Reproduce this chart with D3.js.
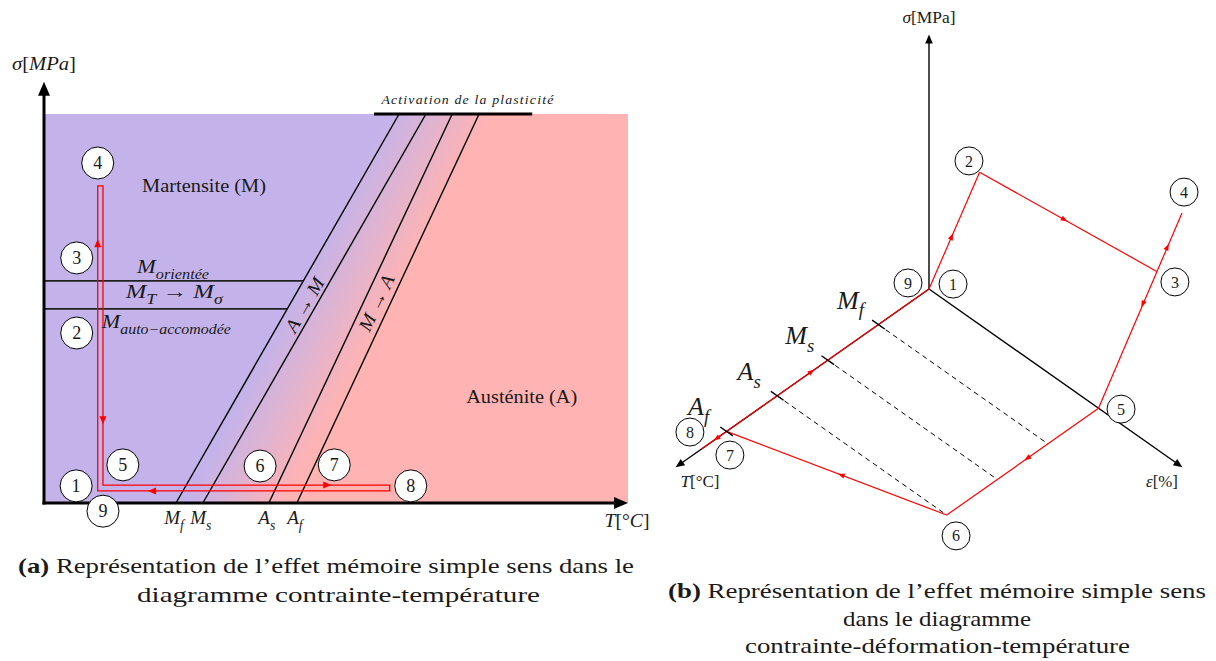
<!DOCTYPE html>
<html>
<head>
<meta charset="utf-8">
<script src="https://cdn.jsdelivr.net/npm/d3@7"></script>
<style>
  body { margin: 0; background: #fff; }
  svg text { font-family: "Liberation Serif", "Times New Roman", serif; fill: #1a1a1a; }
</style>
</head>
<body>
<svg id="fig" width="1216" height="661"></svg>
<script>
// ---------- (a) stress / temperature diagram, arbitrary units T 0..100, sigma 0..100 ----------
const transLines = [            // T where each boundary meets sigma = 0 and sigma = 100
  {sym: "M", sub: "f", t0: 22.6, t1: 60.8},
  {sym: "M", sub: "s", t0: 27.2, t1: 65.4},
  {sym: "A", sub: "s", t0: 38.5, t1: 69.9},
  {sym: "A", sub: "f", t0: 43.3, t1: 74.5}
];
const reorientLevels = [57.1, 49.9];
const plasticitySpan = [56.5, 83.6];
const loopA = [[9.2, 81.5], [9.2, 3.1], [59.2, 3.1], [59.2, 4.6], [10.1, 4.6], [10.1, 81.5]];
const loopArrowsA = [
  {at: [9.2, 66.8], dir: [0, 1]},
  {at: [10.1, 21.3], dir: [0, -1]},
  {at: [48.5, 4.6], dir: [1, 0]},
  {at: [18.5, 3.1], dir: [-1, 0]}
];
const stepsA = [
  {n: "4", at: [9.2, 87.4]}, {n: "3", at: [5.6, 63.0]}, {n: "2", at: [5.6, 43.7]},
  {n: "1", at: [5.5, 4.4]}, {n: "5", at: [13.5, 9.8]}, {n: "9", at: [10.1, -2.1]},
  {n: "6", at: [37.0, 9.5]}, {n: "7", at: [49.7, 9.8]}, {n: "8", at: [62.8, 4.4]}
];
const labelsA = [
  {id: "mart", at: [27.4, 80.0], parts: [["Martensite (M)", "r"]]},
  {id: "aust", at: [81.8, 25.7], parts: [["Austénite (A)", "r"]]},
  {id: "orient", at: [22.1, 59.1], parts: [["M"], ["orientée", "s"]]},
  {id: "mtms", at: [22.3, 52.7], parts: [["M"], ["T", "s"], [" → ", "r"], ["M"], ["σ", "s"]]},
  {id: "auto", at: [9.9, 45.0], parts: [["M"], ["auto−accomodée", "s"]]},
  {id: "plast", at: [72.6, 102.6], parts: [["Activation de la plasticité"]]}
];
const bandLabels = [  // rotated along the boundaries
  {at: [44.7, 50.9], along: 0, parts: [["A"], [" → ", "r"], ["M"]]},
  {at: [57.0, 51.4], along: 2, parts: [["M"], [" → ", "r"], ["A"]]}
];

// ---------- (b) stress / strain / temperature, 3D coords [T, eps, sigma] ----------
const pts = {
  p1: [0, 0, 0], p2: [0, 0.2, 0.6], p3: [0, 0.9, 0.7], p4: [0, 1.0, 1.0],
  p5: [0, 0.67, 0], p6: [0.6, 0.67, 0], p7: [0.8, 0, 0], p8: [0.9, 0, 0]
};
const redSegs = [["p1", "p2"], ["p2", "p3"], ["p5", "p4"], ["p5", "p6"], ["p6", "p7"], ["p1", "p8"]];
const redArrows = [
  {from: "p1", to: "p2", f: 0.45}, {from: "p2", to: "p3", f: 0.48},
  {from: "p3", to: "p4", f: 0.42}, {from: "p3", to: "p5", f: 0.24},
  {from: "p5", to: "p6", f: 0.47}, {from: "p6", to: "p7", f: 0.48},
  {from: "p7", to: "p8", f: 0.4}, {from: "p7", to: "p1", f: 0.42}
];
const tempTicks = [0.2, 0.4, 0.6, 0.8];
const tickNames = [["M", "f"], ["M", "s"], ["A", "s"], ["A", "f"]];
const dashedTo = [0.2, 0.4, 0.6];   // ticks joined to the eps = 0.67 edge
const stepsB = [
  {n: "2", at: [0, 0.158, 0.615]}, {n: "4", at: [0, 1.008, 1.088]}, {n: "3", at: [0, 0.972, 0.709]},
  {n: "1", at: [0, 0.095, 0.086]}, {n: "9", at: [0.083, 0, 0.082]}, {n: "5", at: [0, 0.759, 0.059]},
  {n: "6", at: [0.64, 0.747, 0]}, {n: "7", at: [0.86, 0.073, 0]}, {n: "8", at: [0.945, 0, 0.099]}
];

// ---------- captions ----------
const captionA = [["(a)", " Représentation de l’effet mémoire simple sens dans le"], ["", "diagramme contrainte-température"]];
const captionB = [["(b)", " Représentation de l’effet mémoire simple sens"], ["", "dans le diagramme"], ["", "contrainte-déformation-température"]];

const svg = d3.select("#fig");
const purple = "#c4b3ea", pink = "#ffb3b3", red = "#ff0000";

// math-ish text: parts = [text, flags], flags "r" upright, "s" subscript
function mathText(g, x, y, parts, size, anchor) {
  const t = g.append("text").attr("x", x).attr("y", y)
    .attr("font-size", size).attr("text-anchor", anchor || "middle");
  let shift = 0;
  parts.forEach(function (p) {
    const f = p[1] || "";
    const s = f.includes("s") ? size * 0.3 : 0;
    const ts = t.append("tspan").text(p[0]).attr("dy", s - shift);
    shift = s;
    if (!f.includes("r")) ts.attr("font-style", "italic");
    if (f.includes("s")) ts.attr("font-size", size * 0.72);
  });
  return t;
}

function arrowHead(g, px, py, ang, len, hw, color) {
  g.append("path")
    .attr("d", `M${len / 2},0 L${-len / 2},${-hw} L${-len / 2},${hw} Z`)
    .attr("transform", `translate(${px},${py}) rotate(${ang * 180 / Math.PI})`)
    .attr("fill", color);
}

// ================= panel (a) =================
const x = d3.scaleLinear().domain([0, 100]).range([44, 628]);
const y = d3.scaleLinear().domain([0, 100]).range([503, 114]);
const ga = svg.append("g");

// background shading, purple -> pink across the transformation band
const L1 = transLines[0], L4 = transLines[3];
const mid = 50;
const ax = x(L1.t0 + (L1.t1 - L1.t0) * mid / 100), ay = y(mid);
const bx = x(L4.t0 + (L4.t1 - L4.t0) * mid / 100);
const nx = Math.cos(27.5 * Math.PI / 180), ny = Math.sin(27.5 * Math.PI / 180);
const proj = (bx - ax) * nx;
const grad = svg.append("defs").append("linearGradient").attr("id", "band")
  .attr("gradientUnits", "userSpaceOnUse")
  .attr("x1", ax).attr("y1", ay).attr("x2", ax + proj * nx).attr("y2", ay + proj * ny);
grad.append("stop").attr("offset", 0).attr("stop-color", purple);
grad.append("stop").attr("offset", 1).attr("stop-color", pink);
ga.append("rect").attr("x", x(0)).attr("y", y(100))
  .attr("width", x(100) - x(0)).attr("height", y(0) - y(100)).attr("fill", "url(#band)");

// transformation boundaries
ga.selectAll(".tl").data(transLines).enter().append("line")
  .attr("x1", d => x(d.t0)).attr("y1", y(0)).attr("x2", d => x(d.t1)).attr("y2", y(100))
  .attr("stroke", "#000").attr("stroke-width", 1.4);

// reorientation levels end on the A->M boundary
ga.selectAll(".lv").data(reorientLevels).enter().append("line")
  .attr("x1", x(0)).attr("y1", d => y(d))
  .attr("x2", d => x(L1.t0 + (L1.t1 - L1.t0) * d / 100)).attr("y2", d => y(d))
  .attr("stroke", "#222").attr("stroke-width", 1.6);

// plasticity bar
ga.append("line").attr("x1", x(plasticitySpan[0])).attr("x2", x(plasticitySpan[1]))
  .attr("y1", y(100)).attr("y2", y(100)).attr("stroke", "#000").attr("stroke-width", 3);

// axes
ga.append("line").attr("x1", x(0)).attr("y1", y(0) + 1.5).attr("x2", x(0)).attr("y2", y(105))
  .attr("stroke", "#000").attr("stroke-width", 3);
arrowHead(ga, x(0), y(106.5), -Math.PI / 2, 14, 6, "#000");
ga.append("line").attr("x1", x(0) - 1.5).attr("y1", y(0)).attr("x2", x(98)).attr("y2", y(0))
  .attr("stroke", "#000").attr("stroke-width", 3);
arrowHead(ga, x(98.8), y(0), 0, 14, 6, "#000");
mathText(ga, x(0), y(108) - 13, [["σ"], ["[", "r"], ["MPa"], ["]", "r"]], 19)
  .attr("textLength", 64).attr("lengthAdjust", "spacingAndGlyphs");
mathText(ga, x(100) - 1, y(0) + 24, [["T"], ["[", "r"], ["°", "r"], ["C"], ["]", "r"]], 19)
  .attr("textLength", 45).attr("lengthAdjust", "spacingAndGlyphs");

// boundary names under the axis
transLines.forEach(function (d) {
  mathText(ga, x(d.t0) - 2, y(0) + 21, [[d.sym], [d.sub, "s"]], 19);
});

// red loop
ga.append("path").attr("d", d3.line().x(d => x(d[0])).y(d => y(d[1]))(loopA) + "Z")
  .attr("fill", "none").attr("stroke", red).attr("stroke-width", 1.3);
loopArrowsA.forEach(function (a) {
  const px = x(a.at[0]), py = y(a.at[1]);
  const ang = Math.atan2(y(a.at[1] + a.dir[1]) - py, x(a.at[0] + a.dir[0]) - px);
  arrowHead(ga, px, py, ang, 8, 3.5, red);
});

// texts
const styleA = {mart: [18, 124], aust: [18, 111], orient: [19, 72], mtms: [19, 97], auto: [19, 129], plast: [12, 173]};
labelsA.forEach(function (l) {
  const st = styleA[l.id];
  const t = mathText(ga, x(l.at[0]), y(l.at[1]), l.parts, st[0], l.id === "auto" ? "start" : "middle");
  if (st[1]) t.attr("textLength", st[1]).attr("lengthAdjust", "spacingAndGlyphs");
  if (l.id === "plast") t.attr("letter-spacing", 1);
});
bandLabels.forEach(function (l) {
  const d = transLines[l.along];
  const ang = Math.atan2(y(100) - y(0), x(d.t1) - x(d.t0)) * 180 / Math.PI;
  const g = ga.append("g").attr("transform", `translate(${x(l.at[0])},${y(l.at[1])}) rotate(${ang})`);
  mathText(g, 0, 6, l.parts, 19).attr("textLength", 60).attr("lengthAdjust", "spacingAndGlyphs");
});

// numbered states
const sa = ga.selectAll(".sa").data(stepsA).enter().append("g")
  .attr("transform", d => `translate(${x(d.at[0])},${y(d.at[1])})`);
sa.append("circle").attr("r", 16).attr("fill", "#fff").attr("stroke", "#000").attr("stroke-width", 1);
sa.append("text").attr("text-anchor", "middle").attr("dy", "0.35em").attr("font-size", 18).text(d => d.n);

// ================= panel (b) =================
const gb = svg.append("g");
const tX = d3.scaleLinear().domain([0, 1]).range([0, -253]);
const tY = d3.scaleLinear().domain([0, 1]).range([0, 178]);
const eX = d3.scaleLinear().domain([0, 1]).range([0, 253]);
const eY = d3.scaleLinear().domain([0, 1]).range([0, 178]);
const sY = d3.scaleLinear().domain([0, 1]).range([0, -254]);
const origin = [929, 289];
function P(c) { return [origin[0] + tX(c[0]) + eX(c[1]), origin[1] + tY(c[0]) + eY(c[1]) + sY(c[2])]; }
function lerp(a, b, f) { return a.map((v, i) => v + (b[i] - v) * f); }

// axes
[[1, 0, 0], [0, 1, 0], [0, 0, 1]].forEach(function (c) {
  const tip = P(c), o = P([0, 0, 0]);
  const ang = Math.atan2(tip[1] - o[1], tip[0] - o[0]);
  gb.append("line").attr("x1", o[0]).attr("y1", o[1])
    .attr("x2", tip[0] - 6 * Math.cos(ang)).attr("y2", tip[1] - 6 * Math.sin(ang))
    .attr("stroke", "#000").attr("stroke-width", 1.4);
  arrowHead(gb, tip[0] - 4 * Math.cos(ang), tip[1] - 4 * Math.sin(ang), ang, 9, 3.8, "#000");
});
const sTip = P([0, 0, 1]), tTip = P([1, 0, 0]), eTip = P([0, 1, 0]);
mathText(gb, sTip[0], sTip[1] - 12, [["σ"], ["[MPa]", "r"]], 17).attr("textLength", 53).attr("lengthAdjust", "spacingAndGlyphs");
mathText(gb, tTip[0] + 24, tTip[1] + 20, [["T"], ["[°C]", "r"]], 17).attr("textLength", 39).attr("lengthAdjust", "spacingAndGlyphs");
mathText(gb, eTip[0] - 20, eTip[1] + 20, [["ε"], ["[%]", "r"]], 17).attr("textLength", 32).attr("lengthAdjust", "spacingAndGlyphs");

// dashed guides
dashedTo.forEach(function (t) {
  const a = P([t, 0, 0]), b = P([t, pts.p5[1], 0]);
  gb.append("line").attr("x1", a[0]).attr("y1", a[1]).attr("x2", b[0]).attr("y2", b[1])
    .attr("stroke", "#000").attr("stroke-width", 1).attr("stroke-dasharray", "5,4");
});

// red path
redSegs.forEach(function (s) {
  const a = P(pts[s[0]]), b = P(pts[s[1]]);
  gb.append("line").attr("x1", a[0]).attr("y1", a[1]).attr("x2", b[0]).attr("y2", b[1])
    .attr("stroke", red).attr("stroke-width", 1.2);
});
redArrows.forEach(function (r) {
  const a = P(pts[r.from]), b = P(pts[r.to]);
  const p = lerp(a, b, r.f);
  arrowHead(gb, p[0], p[1], Math.atan2(b[1] - a[1], b[0] - a[0]), 7, 2.6, red);
});

// temperature ticks
tempTicks.forEach(function (t, i) {
  const a = P([t, -0.025, 0]), b = P([t, 0.025, 0]), c = P([t, 0, 0]);
  gb.append("line").attr("x1", a[0]).attr("y1", a[1]).attr("x2", b[0]).attr("y2", b[1])
    .attr("stroke", "#000").attr("stroke-width", 1.4);
  mathText(gb, c[0] - 28, c[1] - 16, [[tickNames[i][0]], [tickNames[i][1], "s"]], 26);
});

const sb = gb.selectAll(".sb").data(stepsB).enter().append("g")
  .attr("transform", d => `translate(${P(d.at)[0]},${P(d.at)[1]})`);
sb.append("circle").attr("r", 14).attr("fill", "#fff").attr("stroke", "#000").attr("stroke-width", 1);
sb.append("text").attr("text-anchor", "middle").attr("dy", "0.35em").attr("font-size", 16).text(d => d.n);

// ================= captions =================
function caption(lines, cx, y0, widths, lh) {
  lines.forEach(function (ln, i) {
    const t = svg.append("text").attr("x", cx[i]).attr("y", y0 + i * lh)
      .attr("text-anchor", "middle").attr("font-size", 21)
      .attr("textLength", widths[i]).attr("lengthAdjust", "spacingAndGlyphs");
    if (ln[0]) t.append("tspan").attr("font-weight", "bold").text(ln[0]);
    t.append("tspan").text(ln[1]);
  });
}
caption(captionA, [326, 338.5], 573, [616, 403], 29);
caption(captionB, [937, 937, 937.5], 598, [538, 188, 385], 27.5);
</script>
</body>
</html>
